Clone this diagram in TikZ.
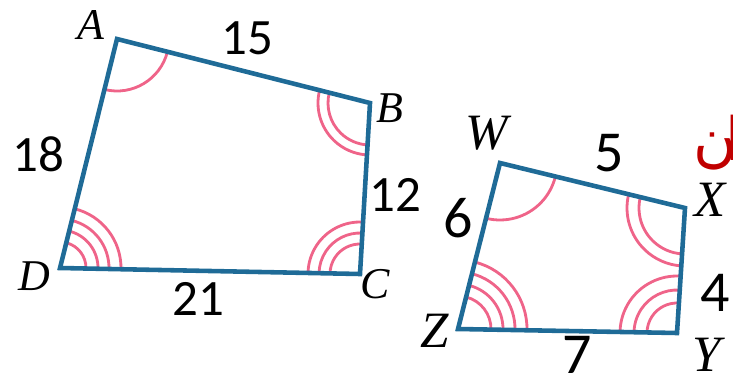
\documentclass[tikz,border=0pt]{standalone}
\usepackage{fontspec}
\newfontfamily\numfont{Carlito}
\newfontfamily\lblfont{Liberation Serif}
\newfontfamily\arabicfont[Script=Arabic]{DejaVu Sans}
\TeXXeTstate=1
\usetikzlibrary{angles}
\definecolor{quadblue}{HTML}{1F6B97}
\definecolor{arcpink}{HTML}{EF6489}
\definecolor{notered}{HTML}{C00000}

\begin{document}
\begin{tikzpicture}[
x=0.02cm, y=0.02cm,
side/.style={draw=quadblue, line width=2.6pt},
arcmark/.style={draw=arcpink, line width=1.6pt},
vlbl/.style={font=\lblfont\itshape\fontsize{25}{25}\selectfont, inner sep=0pt},
vlblbig/.style={font=\lblfont\itshape\fontsize{29}{29}\selectfont, inner sep=0pt},
len/.style={font=\numfont\fontsize{29}{29}\selectfont, inner sep=0pt},
lenbig/.style={font=\numfont\fontsize{33}{33}\selectfont, inner sep=0pt}
]

\useasboundingbox (0,0) rectangle (733,379);

% first quadrilateral
\coordinate (A) at (117,340);
\coordinate (B) at (370,276);
\coordinate (C) at (360,105);
\coordinate (D) at (60,111);

\pic[arcmark, angle radius=52*0.02cm] {angle=D--A--B};
\foreach \r in {42,52}
  \pic[arcmark, angle radius=\r*0.02cm] {angle=A--B--C};
\foreach \r in {30,41,52}
  \pic[arcmark, angle radius=\r*0.02cm] {angle=B--C--D};
\foreach \r in {26,38,49,61}
  \pic[arcmark, angle radius=\r*0.02cm] {angle=C--D--A};

\draw[side] (A) -- (B) -- (C) -- (D) -- cycle;

\node[vlbl] (lbl_A) at (91,354) {A};
\node[vlbl] (lbl_B) at (390,271) {B};
\node[vlbl] (lbl_C) at (375,95) {C};
\node[vlbl] (lbl_D) at (34,103) {D};
\node[len] (len_AB) at (247,341) {15};
\node[len] (len_DA) at (38,225) {18};
\node[len] (len_BC) at (395,184) {12};
\node[len] (len_CD) at (198,80) {21};

% second quadrilateral
\coordinate (W) at (500,216);
\coordinate (X) at (685,171);
\coordinate (Y) at (677,46);
\coordinate (Z) at (458,50);

\pic[arcmark, angle radius=57*0.02cm] {angle=Z--W--X};
\foreach \r in {46,58}
  \pic[arcmark, angle radius=\r*0.02cm] {angle=W--X--Y};
\foreach \r in {30,43,57}
  \pic[arcmark, angle radius=\r*0.02cm] {angle=X--Y--Z};
\foreach \r in {33,45,57,69}
  \pic[arcmark, angle radius=\r*0.02cm] {angle=Y--Z--W};

\draw[side] (W) -- (X) -- (Y) -- (Z) -- cycle;

\node[vlblbig] (lbl_W) at (487,246) {W};
\node[vlblbig] (lbl_X) at (710,179) {X};
\node[vlblbig] (lbl_Y) at (707,24) {Y};
\node[vlblbig] (lbl_Z) at (435,48) {Z};
\node[lenbig] (len_WX) at (609,226) {5};
\node[lenbig] (len_ZW) at (458,161) {6};
\node[lenbig] (len_XY) at (715,86) {4};
\node[lenbig] (len_YZ) at (577,24) {7};

\node[font=\arabicfont\fontsize{34}{34}\selectfont, text=notered, inner sep=0pt, anchor=east] (note_red) at (742.5,236) {\beginR ا\kern-6.5pt ن\endR};

\end{tikzpicture}
\end{document}
